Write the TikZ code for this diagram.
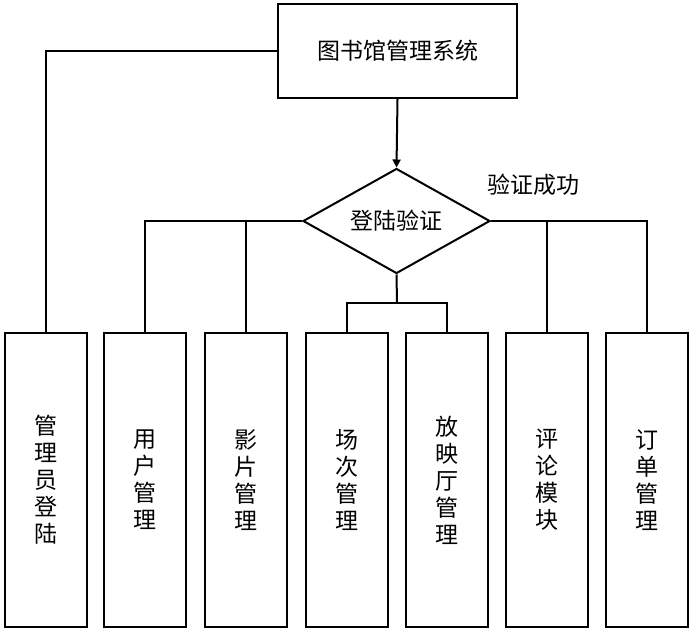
\documentclass[tikz,border=0pt]{standalone}
\usepackage{fontspec}
\setmainfont{Noto Sans CJK SC}
\usetikzlibrary{arrows.meta,shapes.geometric}
\begin{document}
\begin{tikzpicture}[x=1pt,y=-1pt,
  line width=2pt,
  txt/.style={font=\fontsize{23}{27}\selectfont},
  box/.style={draw,rectangle,inner sep=0pt,txt,align=center},
  modbox/.style={box,minimum width=82pt,minimum height=294pt},
  conn/.style={draw,line width=2pt}]
\useasboundingbox (0,0) rectangle (692,631);
\node[box,minimum width=239pt,minimum height=94pt] (top) at (397.5,51) {图书馆管理系统};
\node[draw,diamond,aspect=1.78,minimum width=187pt,minimum height=105pt,inner sep=0pt,txt] (dia) at (396.5,221) {登陆验证};
\node[txt] (ok) at (533,185) {验证成功};
\node[modbox] (m1) at (45.5,480) {管\\理\\员\\登\\陆};
\node[modbox] (m2) at (145,480) {用\\户\\管\\理};
\node[modbox] (m3) at (246,480) {影\\片\\管\\理};
\node[modbox] (m4) at (346.5,480) {场\\次\\管\\理};
\node[modbox] (m5) at (446.5,480) {放\\映\\厅\\管\\理};
\node[modbox] (m6) at (546.5,480) {评\\论\\模\\块};
\node[modbox] (m7) at (647,480) {订\\单\\管\\理};
\coordinate (br) at (397,303);
\draw[conn,-{Triangle[length=8pt,width=8pt]}] (top.south) -- (dia.north);
\draw[conn] (top.west) -| (m1.north);
\draw[conn] (dia.west) -| (m2.north);
\draw[conn] (m3.north) |- (dia.west);
\draw[conn] (dia.east) -| (m7.north);
\draw[conn] (m6.north) |- (dia.east);
\draw[conn] (dia.south) -- (br);
\draw[conn] (m4.north) |- (br) -| (m5.north);
\end{tikzpicture}
\end{document}
